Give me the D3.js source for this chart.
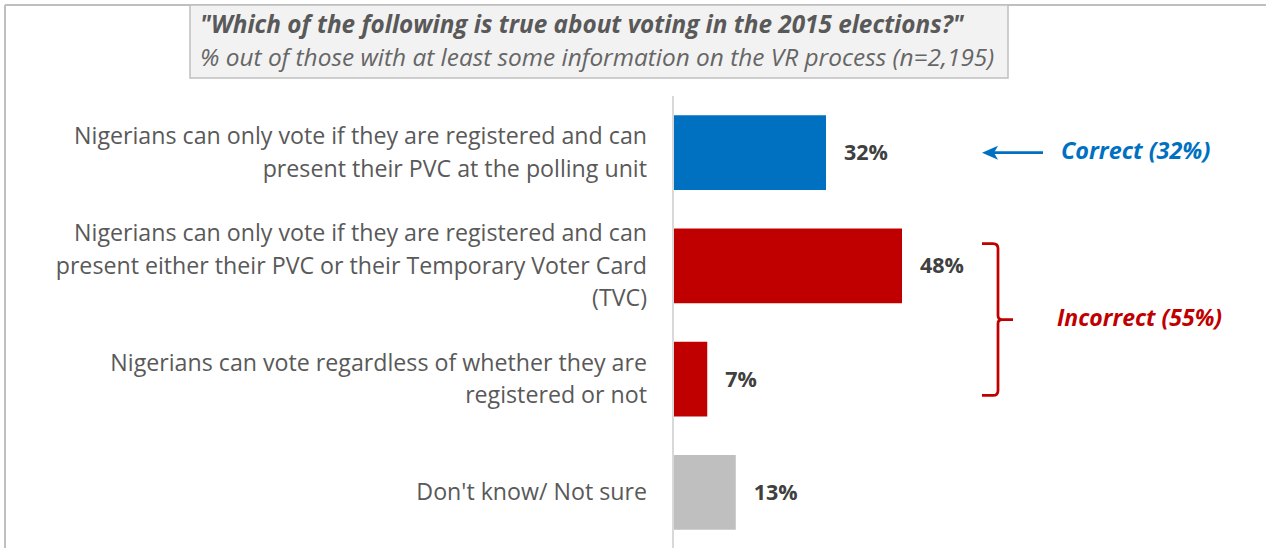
<!DOCTYPE html>
<html>
<head>
<meta charset="utf-8">
<script src="https://cdn.jsdelivr.net/npm/d3@7"></script>
<style>
  html, body { margin: 0; padding: 0; background: #ffffff; }
  svg { display: block; font-family: "Open Sans", Lato, sans-serif; }
</style>
</head>
<body>
<svg id="chart" width="1266" height="548"></svg>
<script>
// Survey answers, one row per bar
const categories = [
  "Nigerians can only vote if they are registered and can present their PVC at the polling unit",
  "Nigerians can only vote if they are registered and can present either their PVC or their Temporary Voter Card (TVC)",
  "Nigerians can vote regardless of whether they are registered or not",
  "Don't know/ Not sure"
];
// Wrapped lines of each category label
const categoryLines = [
  ["Nigerians can only vote if they are registered and can", "present their PVC at the polling unit"],
  ["Nigerians can only vote if they are registered and can", "present either their PVC or their Temporary Voter Card", "(TVC)"],
  ["Nigerians can vote regardless of whether they are", "registered or not"],
  ["Don't know/ Not sure"]
];
const values = [32, 48, 7, 13];
const answerGroup = ["correct", "incorrect", "incorrect", "unsure"];
const titleLine = "\"Which of the following is true about voting in the 2015 elections?\"";
const subtitleLine = "% out of those with at least some information on the VR process (n=2,195)";
const correctLabel = "Correct (32%)";
const incorrectLabel = "Incorrect (55%)";

const groupColor = { correct: "#0070C0", incorrect: "#C00000", unsure: "#BFBFBF" };

const svg = d3.select("#chart");
const W = 1266, H = 548;

// outer frame (top and left edges)
svg.append("line").attr("x1", 5).attr("x2", W).attr("y1", 5).attr("y2", 5)
  .attr("stroke", "#BFBFBF").attr("stroke-width", 2);
svg.append("line").attr("x1", 5).attr("x2", 5).attr("y1", 5).attr("y2", H)
  .attr("stroke", "#BFBFBF").attr("stroke-width", 2);

// title box
svg.append("rect").attr("x", 190).attr("y", 5).attr("width", 818).attr("height", 73)
  .attr("fill", "#F2F2F2").attr("stroke", "#BFBFBF").attr("stroke-width", 1.5);
svg.append("text").attr("x", 200).attr("y", 33)
  .attr("font-size", 24.3).attr("font-weight", "bold").attr("font-style", "italic")
  .attr("fill", "#595959").text(titleLine);
svg.append("text").attr("x", 200).attr("y", 65.5)
  .attr("font-size", 24.4).attr("font-style", "italic")
  .attr("fill", "#666666").text(subtitleLine);

// scales
const x = d3.scaleLinear().domain([0, 100]).range([674, 674 + 475]);
const y = d3.scaleBand().domain(d3.range(categories.length)).range([96, 549]).paddingInner(0.34).paddingOuter(0.17);

// category axis line
svg.append("line").attr("x1", 673).attr("x2", 673).attr("y1", 96).attr("y2", H)
  .attr("stroke", "#D9D9D9").attr("stroke-width", 2);

// bars
svg.append("g").selectAll("rect").data(values).join("rect")
  .attr("x", x(0))
  .attr("y", (d, i) => y(i))
  .attr("width", d => x(d) - x(0))
  .attr("height", y.bandwidth())
  .attr("fill", (d, i) => groupColor[answerGroup[i]]);

// value labels
svg.append("g").selectAll("text").data(values).join("text")
  .attr("x", d => x(d) + 18)
  .attr("y", (d, i) => y(i) + y.bandwidth() / 2)
  .attr("dy", "0.35em")
  .attr("font-size", 21.5).attr("font-weight", "bold").attr("fill", "#404040")
  .text(d => d + "%");

// category labels
const lineH = 32.5;
const catG = svg.append("g");
categoryLines.forEach((lines, i) => {
  const cy = y(i) + y.bandwidth() / 2;
  const t = catG.append("text")
    .attr("text-anchor", "end").attr("font-size", 23.2).attr("fill", "#595959");
  lines.forEach((ln, k) => {
    t.append("tspan").attr("x", 647)
      .attr("y", cy + (k - (lines.length - 1) / 2) * lineH)
      .attr("dy", "0.35em").text(ln);
  });
});

// "Correct" annotation with arrow pointing back at the bar
const cyCorrect = y(0) + y.bandwidth() / 2;
const tipX = 982;
svg.append("line").attr("x1", 1043).attr("x2", tipX + 10).attr("y1", cyCorrect).attr("y2", cyCorrect)
  .attr("stroke", groupColor.correct).attr("stroke-width", 2.75);
svg.append("path")
  .attr("d", `M${tipX},${cyCorrect} L${tipX + 16},${cyCorrect - 7} L${tipX + 12},${cyCorrect} L${tipX + 16},${cyCorrect + 7} Z`)
  .attr("fill", groupColor.correct);
svg.append("text").attr("x", 1061).attr("y", cyCorrect - 2).attr("dy", "0.35em")
  .attr("font-size", 23.4).attr("font-weight", "bold").attr("font-style", "italic")
  .attr("fill", groupColor.correct).text(correctLabel);

// "Incorrect" bracket spanning the two incorrect answers
const bTop = y(1) + 15, bBot = y(2) + y.bandwidth() - 21;
const bMid = (bTop + bBot) / 2;
const bx = 998;
svg.append("path")
  .attr("d", `M${bx - 16},${bTop} H${bx - 5} Q${bx},${bTop} ${bx},${bTop + 5} V${bMid - 4} Q${bx},${bMid} ${bx + 4},${bMid} H${bx + 15} M${bx + 4},${bMid} Q${bx},${bMid} ${bx},${bMid + 4} V${bBot - 5} Q${bx},${bBot} ${bx - 5},${bBot} H${bx - 16}`)
  .attr("fill", "none").attr("stroke", groupColor.incorrect).attr("stroke-width", 2.75);
svg.append("text").attr("x", 1057).attr("y", bMid - 2).attr("dy", "0.35em")
  .attr("font-size", 23).attr("font-weight", "bold").attr("font-style", "italic")
  .attr("fill", groupColor.incorrect).text(incorrectLabel);
</script>
</body>
</html>
